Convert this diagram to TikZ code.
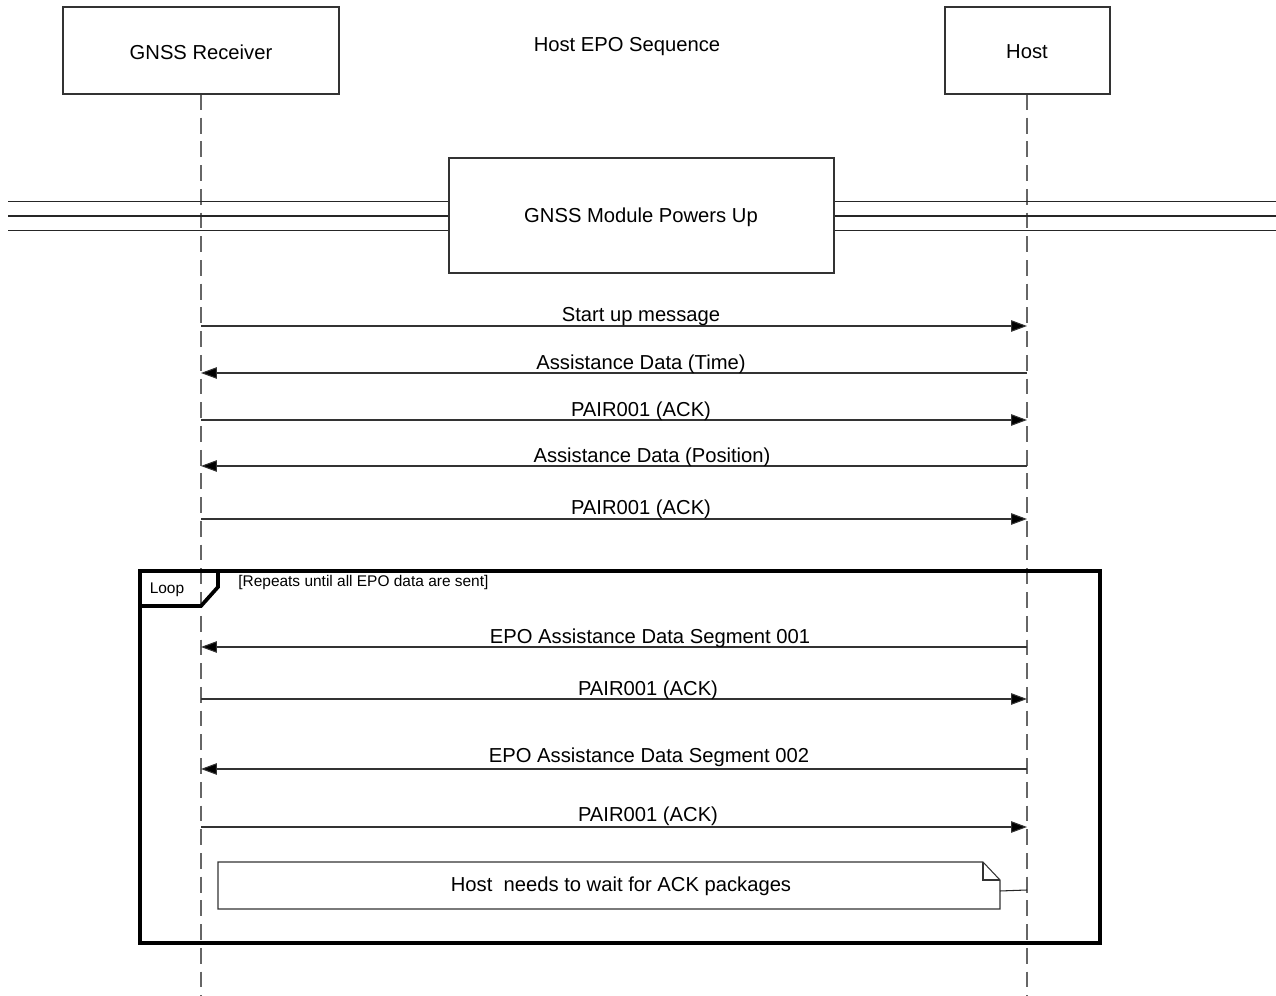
\documentclass[tikz,border=0pt]{standalone}
\usepackage{fontspec}
\setmainfont{Liberation Sans}
\usetikzlibrary{arrows.meta}
\begin{document}
\begin{tikzpicture}[x=0.02cm,y=-0.02cm,
  font=\fontsize{11.5}{13}\selectfont,
  box/.style={draw=black!80,line width=0.6pt,fill=white},
  life/.style={draw=black!60,line width=0.7pt,dash pattern=on 9pt off 4.5pt},
  msg/.style={draw=black!80,line width=0.6pt,-{Triangle[length=9pt,width=6.5pt,fill=black]}},
  lbl/.style={inner sep=0pt},
  small/.style={font=\fontsize{8.8}{10}\selectfont,inner sep=0pt},
  bar/.style={draw=black!85,line width=0.6pt},
  frame/.style={line width=2.1pt,draw=black}]
\useasboundingbox (0,0) rectangle (1276,996);

% lifelines
\coordinate (rtop) at (201,94);
\coordinate (rbot) at (201,996);
\coordinate (htop) at (1027,94);
\coordinate (hbot) at (1027,996);
\draw[life] (rtop) -- (rbot);
\draw[life] (htop) -- (hbot);

% participants
\node[box,minimum width=276*0.02cm,minimum height=87*0.02cm] (rx) at (201,50.5) {};
\node[lbl] (rxt) at (201,52) {GNSS Receiver};
\node[box,minimum width=165*0.02cm,minimum height=87*0.02cm] (host) at (1027.5,50.5) {};
\node[lbl] (hostt) at (1027,52) {Host};
\node[lbl] (title) at (627,47) {Host EPO Sequence};

% powers up divider
\coordinate (l1) at (8,201.5); \coordinate (l2) at (8,216); \coordinate (l3) at (8,230.5);
\coordinate (r1) at (1276,201.5); \coordinate (r2) at (1276,216); \coordinate (r3) at (1276,230.5);
\draw[bar] (l1) -- (r1);
\draw[bar] (l2) -- (r2);
\draw[bar] (l3) -- (r3);
\node[box,minimum width=385*0.02cm,minimum height=115*0.02cm] (pu) at (641.5,215.5) {};
\node[lbl] (put) at (641,217) {GNSS Module Powers Up};

% messages
\coordinate (a1) at (201,326); \coordinate (b1) at (1027,326);
\coordinate (a2) at (201,373); \coordinate (b2) at (1027,373);
\coordinate (a3) at (201,420); \coordinate (b3) at (1027,420);
\coordinate (a4) at (201,466); \coordinate (b4) at (1027,466);
\coordinate (a5) at (201,519); \coordinate (b5) at (1027,519);
\coordinate (a6) at (201,647); \coordinate (b6) at (1027,647);
\coordinate (a7) at (201,699); \coordinate (b7) at (1027,699);
\coordinate (a8) at (201,769); \coordinate (b8) at (1027,769);
\coordinate (a9) at (201,827); \coordinate (b9) at (1027,827);

\draw[msg] (a1) -- (b1);
\node[lbl] (m1) at (641,317) {Start up message};
\draw[msg] (b2) -- (a2);
\node[lbl] (m2) at (641,364) {Assistance Data (Time)};
\draw[msg] (a3) -- (b3);
\node[lbl] (m3) at (641,411) {PAIR001 (ACK)};
\draw[msg] (b4) -- (a4);
\node[lbl] (m4) at (652,457) {Assistance Data (Position)};
\draw[msg] (a5) -- (b5);
\node[lbl] (m5) at (641,509) {PAIR001 (ACK)};

% loop frame
\coordinate (f1) at (140,571); \coordinate (f2) at (1100,571);
\coordinate (f3) at (1100,943); \coordinate (f4) at (140,943);
\draw[frame] (f1) -- (f2) -- (f3) -- (f4) -- cycle;
\coordinate (t1) at (218,571); \coordinate (t2) at (218,587);
\coordinate (t3) at (201,606); \coordinate (t4) at (140,606);
\draw[frame] (t1) -- (t2) -- (t3) -- (t4);
\node[small] (looplbl) at (167,590) {Loop};
\node[small,anchor=west] (guard) at (238,583) {[Repeats until all EPO data are sent]};

\draw[msg] (b6) -- (a6);
\node[lbl] (m6) at (650,638) {EPO Assistance Data Segment 001};
\draw[msg] (a7) -- (b7);
\node[lbl] (m7) at (648,690) {PAIR001 (ACK)};
\draw[msg] (b8) -- (a8);
\node[lbl] (m8) at (649,757) {EPO Assistance Data Segment 002};
\draw[msg] (a9) -- (b9);
\node[lbl] (m9) at (648,816) {PAIR001 (ACK)};

% note
\coordinate (n1) at (218,862); \coordinate (n2) at (983,862);
\coordinate (n3) at (1000,880); \coordinate (n4) at (1000,909);
\coordinate (n5) at (218,909);
\draw[box] (n1) -- (n2) -- (n3) -- (n4) -- (n5) -- cycle;
\coordinate (n6) at (983,880);
\draw[box,fill=none] (n2) -- (n6) -- (n3);
\node[lbl] (note) at (621,886) {Host\ \ needs to wait for ACK packages};
\coordinate (nc) at (1000,891); \coordinate (nh) at (1027,890);
\draw[bar] (nc) -- (nh);
\end{tikzpicture}
\end{document}
